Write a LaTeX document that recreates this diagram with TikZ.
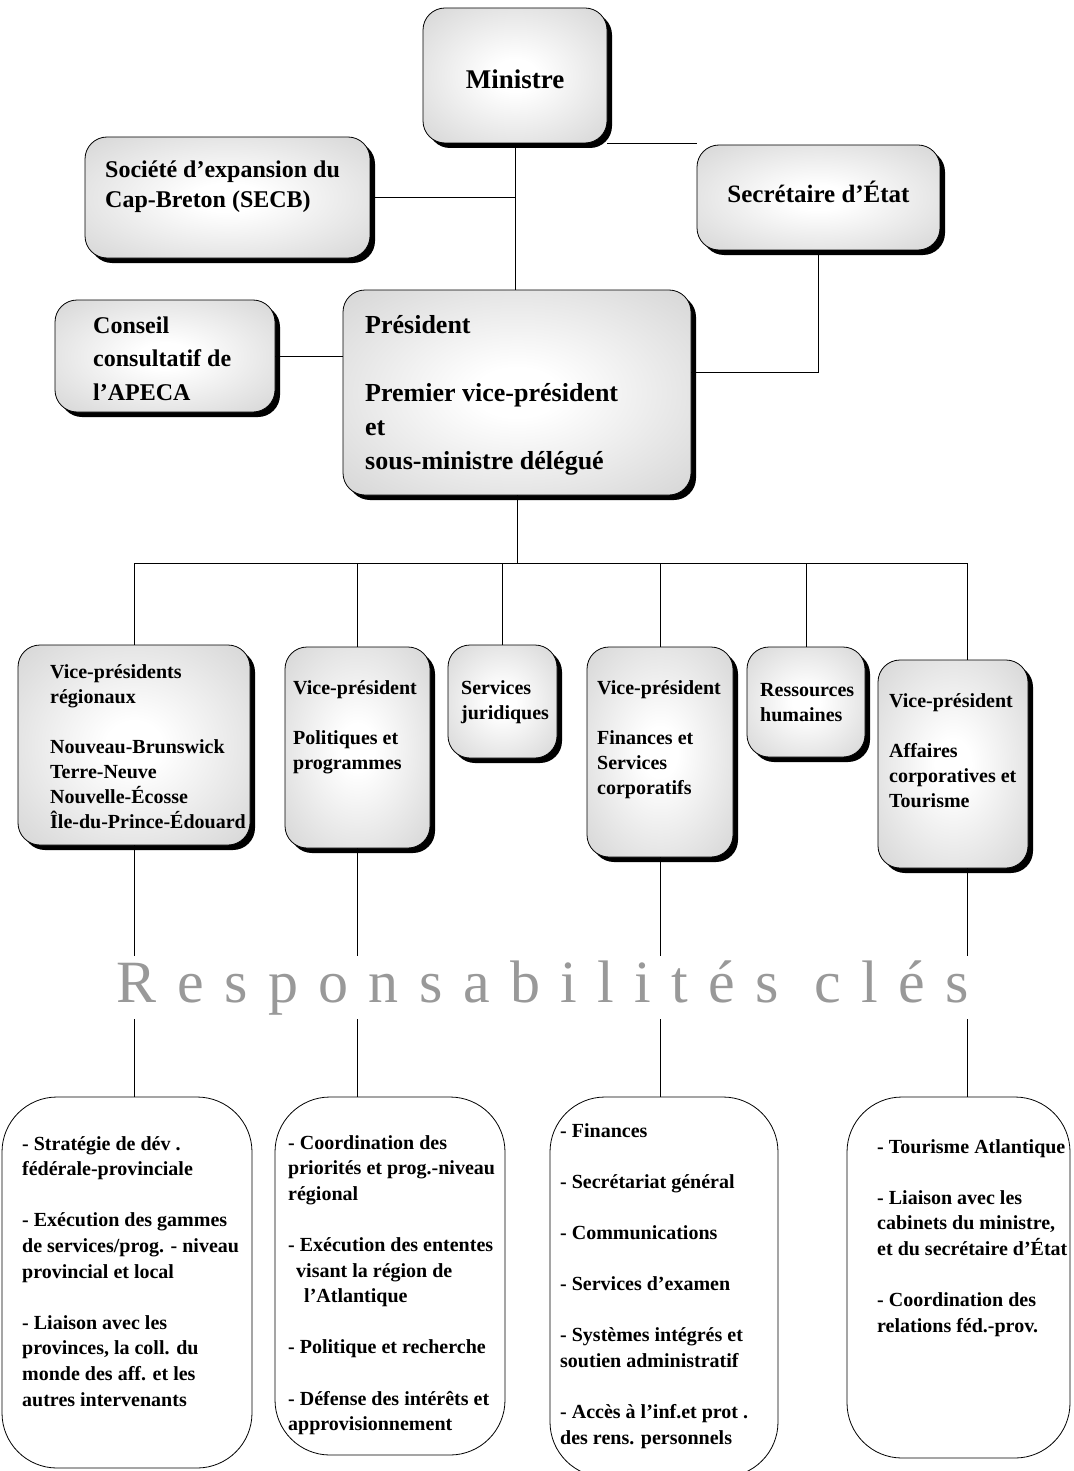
\documentclass[tikz,border=0pt]{standalone}
\usepackage{fontspec}
\setmainfont{Liberation Serif}
\newfontfamily\widefont[LetterSpace=34]{Liberation Serif}
\usetikzlibrary{shadows}

\pgfdeclareradialshading{cardshade}{\pgfpoint{0bp}{0bp}}{color(0bp)=(white); color(6bp)=(white); color(50bp)=(black!24); color(71bp)=(black!40)}

\tikzset{
    card/.style={draw=black, line width=0.8pt, rounded corners=22pt, shading=cardshade,
        drop shadow={shadow xshift=5pt, shadow yshift=-5pt, fill=black, opacity=1}},
    duty/.style={draw=black, line width=0.8pt, fill=white, rounded corners=55pt},
    txt/.style={anchor=north west, inner sep=0pt, align=left, font=\bfseries\fontsize{20}{25}\selectfont},
    dutytxt/.style={txt, font=\bfseries\fontsize{20}{25.6}\selectfont},
    link/.style={draw=black, line width=0.8pt}
}

\begin{document}
\begin{tikzpicture}[x=1pt, y=-1pt]
    \useasboundingbox (0,0) rectangle (1073,1471);

    % Top level
    \node[card, minimum width=184pt, minimum height=135pt] (min) at (515,75.5) {};
    \node[card, minimum width=285pt, minimum height=121pt] (secb) at (227.5,197.5) {};
    \node[card, minimum width=243pt, minimum height=105pt] (sec) at (818.5,197.5) {};
    \node[card, minimum width=220pt, minimum height=112pt] (cca) at (165,356) {};
    \node[card, minimum width=348pt, minimum height=205pt] (pres) at (517,392.5) {};

    \node[txt, anchor=base, font=\bfseries\fontsize{27}{32}\selectfont] (t-min) at (min.center |- 0,89) {Ministre};
    \node[txt, font=\bfseries\fontsize{24}{30}\selectfont] (t-secb) at (105,156) {\strut Société d’expansion du\\Cap-Breton (SECB)};
    \node[txt, anchor=base, font=\bfseries\fontsize{25}{30}\selectfont] (t-sec) at (sec.center |- 0,203) {Secrétaire d’État};
    \node[txt, font=\bfseries\fontsize{24}{33.5}\selectfont] (t-cca) at (93,309.5) {\strut Conseil\\consultatif de\\l’APECA};
    \node[txt, font=\bfseries\fontsize{26}{34}\selectfont] (t-pres) at (365,309.2) {\strut Président\\[34pt]Premier vice-président\\et\\sous-ministre délégué};

    % Second level
    \node[card, minimum width=232pt, minimum height=200pt] (vpreg) at (134,745) {};
    \node[card, minimum width=145pt, minimum height=201pt] (vppol) at (357.5,747.5) {};
    \node[card, minimum width=109pt, minimum height=113pt] (jur) at (502.5,701.5) {};
    \node[card, minimum width=146pt, minimum height=210pt] (vpfin) at (660,752) {};
    \node[card, minimum width=118pt, minimum height=110pt] (rh) at (806,702) {};
    \node[card, minimum width=150pt, minimum height=208pt] (vpaff) at (953,764) {};

    \node[txt] (t-vpreg) at (50,660.5) {\strut Vice-présidents\\régionaux\\[25pt]Nouveau-Brunswick\\Terre-Neuve\\Nouvelle-Écosse\\Île-du-Prince-Édouard};
    \node[txt] (t-vppol) at (293,676.5) {\strut Vice-président\\[25pt]Politiques et\\programmes};
    \node[txt] (t-jur) at (461,676.5) {\strut Services\\juridiques};
    \node[txt] (t-vpfin) at (597,676.5) {\strut Vice-président\\[25pt]Finances et\\Services\\corporatifs};
    \node[txt] (t-rh) at (760,678.5) {\strut Ressources\\humaines};
    \node[txt] (t-vpaff) at (889,689.5) {\strut Vice-président\\[25pt]Affaires\\corporatives et\\Tourisme};

    % Key responsibilities
    \node[duty, minimum width=250pt, minimum height=371pt] (d1) at (127,1282.5) {};
    \node[duty, minimum width=230pt, minimum height=358pt] (d2) at (390,1276) {};
    \node[duty, minimum width=228pt, minimum height=380pt] (d3) at (664,1287) {};
    \node[duty, minimum width=223pt, minimum height=361pt] (d4) at (958.5,1277.5) {};

    \node[dutytxt] (t-d1) at (22,1132) {\strut - Stratégie de dév .\\fédérale-provinciale\\[25.6pt]- Exécution des gammes\\de services/prog. - niveau\\provincial et local\\[25.6pt]- Liaison avec les\\provinces, la coll. du\\monde des aff. et les\\autres intervenants};
    \node[dutytxt] (t-d2) at (288,1131) {\strut - Coordination des\\priorités et prog.-niveau\\régional\\[25.6pt]- Exécution des ententes\\\hspace*{8pt}visant la région de\\\hspace*{16pt}l’Atlantique\\[25.6pt]- Politique et recherche\\[25.6pt]- Défense des intérêts et\\approvisionnement};
    \node[dutytxt] (t-d3) at (560,1119) {\strut - Finances\\[25.6pt]- Secrétariat général\\[25.6pt]- Communications\\[25.6pt]- Services d’examen\\[25.6pt]- Systèmes intégrés et\\soutien administratif\\[25.6pt]- Accès à l’inf.et prot .\\des rens. personnels};
    \node[dutytxt] (t-d4) at (877,1135) {\strut - Tourisme Atlantique\\[25.6pt]- Liaison avec les\\cabinets du ministre,\\et du secrétaire d’État\\[25.6pt]- Coordination des\\relations féd.-prov.};

    % Top links
    \draw[link] (min.south) -- (min.south |- pres.north);
    \draw[link] (secb.east) -- (secb.east -| min.south);
    \draw[link] (min.south east) -- (min.south east -| sec.north west);
    \draw[link] (sec.south) |- ([yshift=20pt]pres.east);
    \draw[link] (cca.east) -- (cca.east -| pres.west);

    % Bus to the vice-presidents
    \coordinate (hub) at (pres.south |- 0,563);
    \draw[link] (pres.south) -- (hub);
    \foreach \b in {vpreg, vppol, jur, vpfin, rh}
        \draw[link] (\b.north) |- (hub);
    \draw[link] ([xshift=14pt]vpaff.north) |- (hub);

    % Down to the duties
    \draw[link] (vpreg.south) -- (vpreg.south |- d1.north);
    \draw[link] (vppol.south) -- (vppol.south |- d2.north);
    \draw[link] (vpfin.south) -- (vpfin.south |- d3.north);
    \draw[link] ([xshift=14pt]vpaff.south) -- ([xshift=14pt]vpaff.south |- d4.north);

    \node[fill=white, inner sep=4pt, anchor=base, text=black!40, font=\widefont\fontsize{60}{64}\selectfont] (resp) at (543,1002) {Responsabilités clés};
\end{tikzpicture}
\end{document}
